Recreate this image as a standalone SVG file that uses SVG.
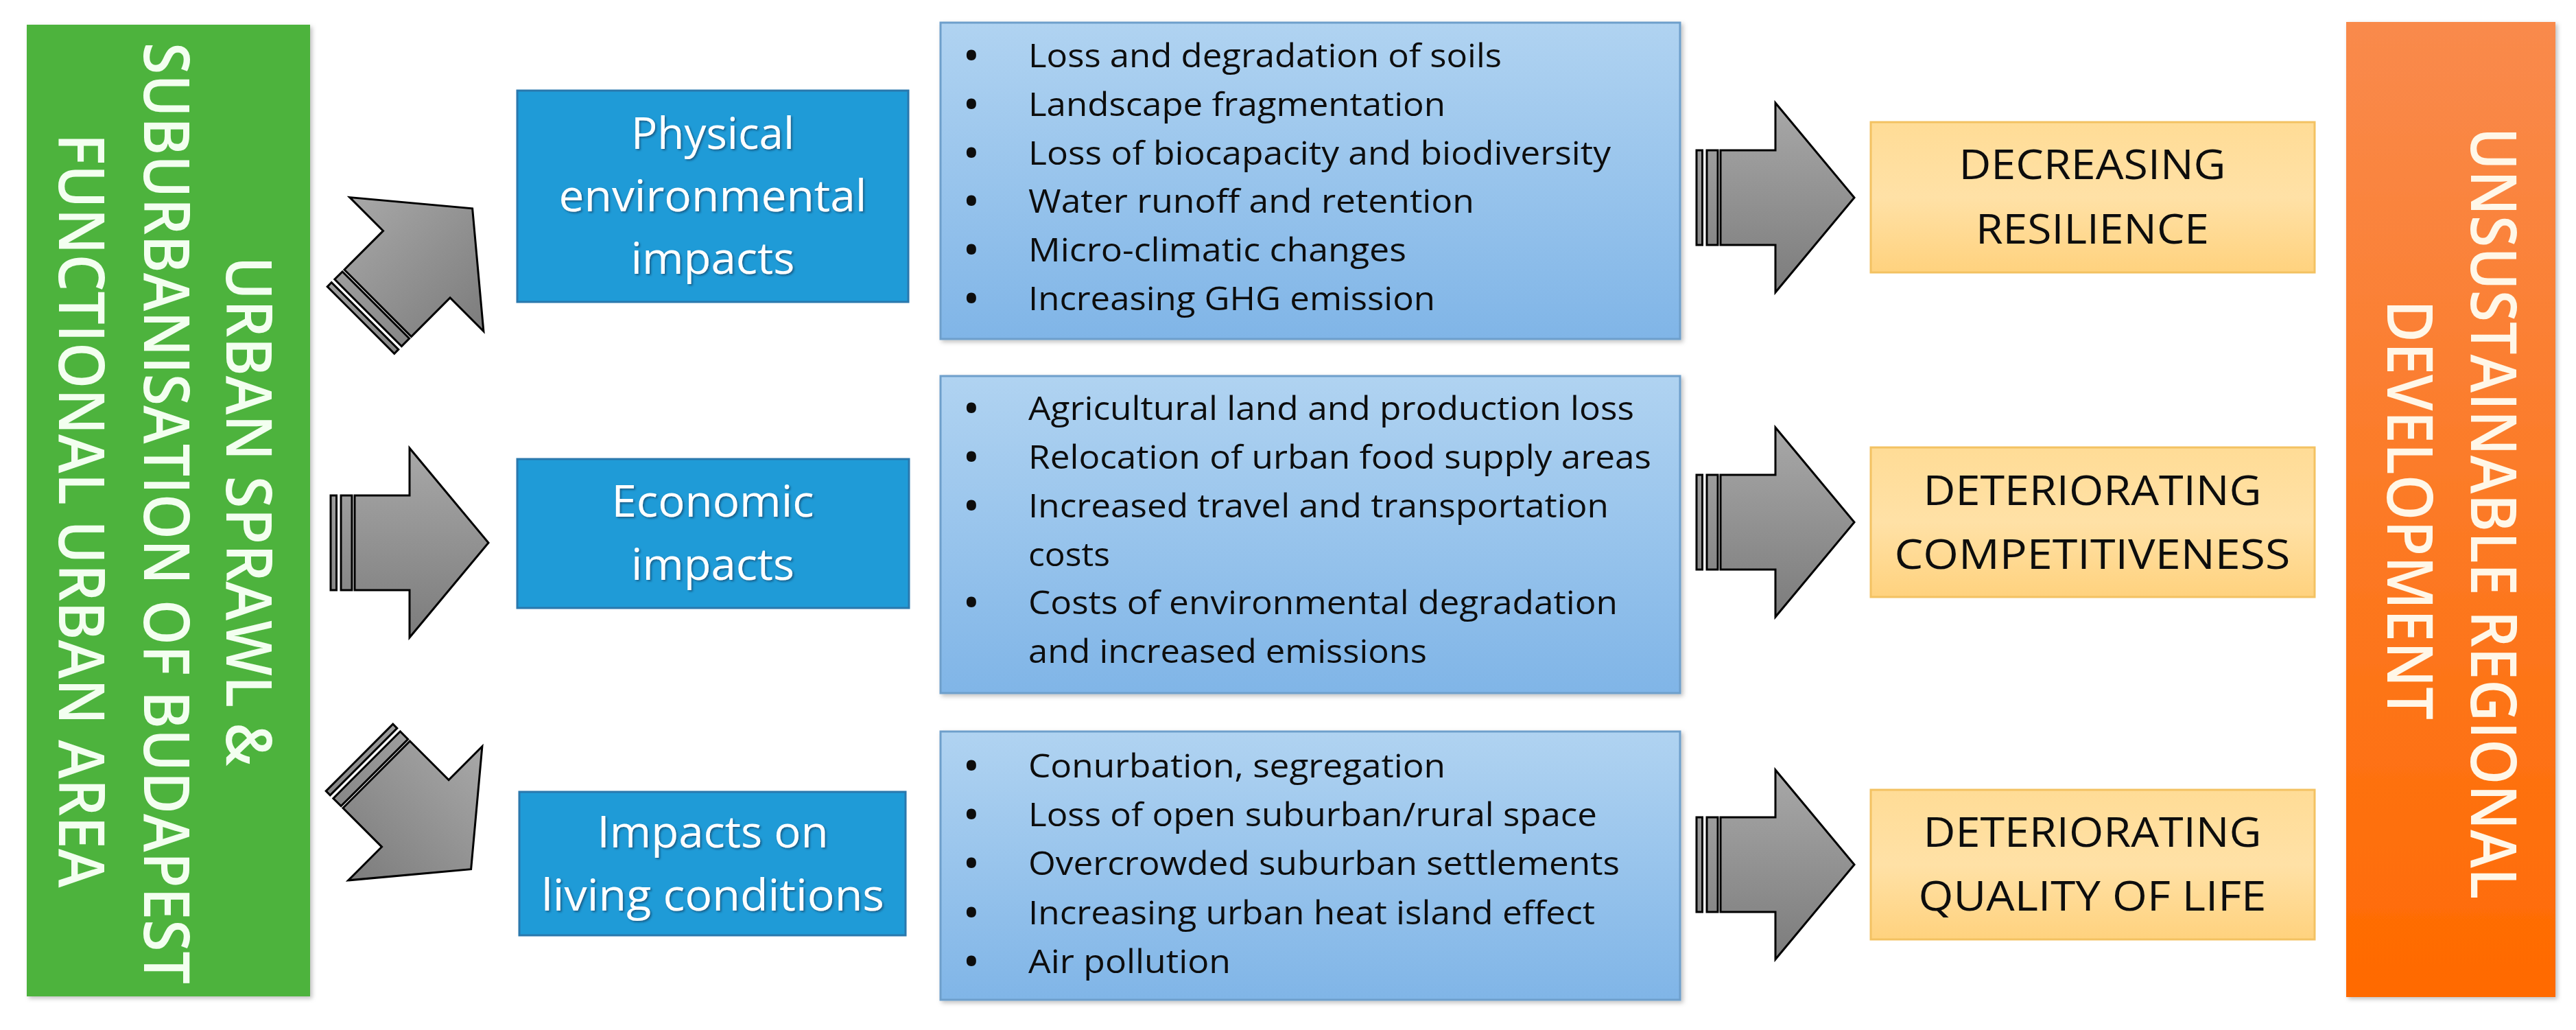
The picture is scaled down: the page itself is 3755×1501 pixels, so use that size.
<svg xmlns="http://www.w3.org/2000/svg" width="3755" height="1501" viewBox="0 0 3755 1501">
<defs>
<style>
.rot{font-family:'Open Sans','Liberation Sans',sans-serif;font-size:84px;font-weight:600;text-anchor:middle}
.title{font-family:'Open Sans','Liberation Sans',sans-serif;font-size:64px;fill:#ffffff;text-anchor:middle}
.bul{font-family:'Open Sans','Liberation Sans',sans-serif;font-size:47px;fill:#0d0d0d}
.dot{font-family:'Open Sans','Liberation Sans',sans-serif;font-size:50px;font-weight:700;fill:#0d0d0d;text-anchor:middle}
.res{font-family:'Open Sans','Liberation Sans',sans-serif;font-size:60px;fill:#0d0d0d;text-anchor:middle}
.tbox{fill:#1f9bd7;stroke:#2a78ad;stroke-width:3}
.lbox{fill:url(#gList);stroke:#6e9fcb;stroke-width:3}
.ybox{fill:url(#gYellow);stroke:#f3c262;stroke-width:3}
.arr{fill:url(#gArrow);stroke:#000;stroke-width:3;stroke-linejoin:miter}
</style>
<linearGradient id="gList" x1="0" y1="0" x2="0" y2="1">
<stop offset="0" stop-color="#b0d3f1"/>
<stop offset="1" stop-color="#80b5e7"/>
</linearGradient>
<linearGradient id="gYellow" x1="0" y1="0" x2="0" y2="1">
<stop offset="0" stop-color="#ffdc96"/>
<stop offset="0.5" stop-color="#ffe1a6"/>
<stop offset="1" stop-color="#ffd27e"/>
</linearGradient>
<linearGradient id="gOrange" x1="0" y1="0" x2="0" y2="1">
<stop offset="0" stop-color="#f98a4c"/>
<stop offset="1" stop-color="#ff6a00"/>
</linearGradient>
<linearGradient id="gArrow" gradientUnits="userSpaceOnUse" x1="0" y1="-138" x2="0" y2="138">
<stop offset="0" stop-color="#a8a8a8"/>
<stop offset="1" stop-color="#7c7c7c"/>
</linearGradient>
<filter id="shadow" x="-5%" y="-5%" width="110%" height="110%">
<feDropShadow dx="3" dy="3" stdDeviation="3" flood-color="#000" flood-opacity="0.25"/>
</filter>
<filter id="tshadow" x="-10%" y="-20%" width="120%" height="140%">
<feDropShadow dx="2" dy="2" stdDeviation="1.5" flood-color="#0b3552" flood-opacity="0.6"/>
</filter>
<g id="striped-arrow" class="arr">
<rect x="0" y="-69" width="8.5" height="138"/>
<rect x="15" y="-69" width="16" height="138"/>
<path d="M35,-69 H115 V-138 L230,0 L115,138 V69 H35 Z"/>
</g>
</defs>

<rect x="0" y="0" width="3755" height="1501" fill="#ffffff"/>

<g id="n-source">
<rect x="39" y="36" width="413" height="1416" fill="#4db33e" filter="url(#shadow)"/>
<g fill="#f3fff0">
<text class="rot" transform="translate(330,745) rotate(90) scale(1,1.09)" textLength="743" lengthAdjust="spacingAndGlyphs">URBAN SPRAWL &amp;</text>
<text class="rot" transform="translate(210,748) rotate(90) scale(1,1.09)" textLength="1372" lengthAdjust="spacingAndGlyphs">SUBURBANISATION OF BUDAPEST</text>
<text class="rot" transform="translate(86,744) rotate(90) scale(1,1.09)" textLength="1099" lengthAdjust="spacingAndGlyphs">FUNCTIONAL URBAN AREA</text>
</g>
</g>

<g id="n-physical">
<rect class="tbox" x="754" y="132" width="570" height="308"/>
<g filter="url(#tshadow)">
<text class="title" x="1039" y="217" textLength="238" lengthAdjust="spacingAndGlyphs">Physical</text>
<text class="title" x="1039" y="308" textLength="449" lengthAdjust="spacingAndGlyphs">environmental</text>
<text class="title" x="1039" y="399" textLength="239" lengthAdjust="spacingAndGlyphs">impacts</text>
</g>
</g>

<g id="n-economic">
<rect class="tbox" x="754" y="669" width="571" height="217"/>
<g filter="url(#tshadow)">
<text class="title" x="1039" y="753" textLength="295" lengthAdjust="spacingAndGlyphs">Economic</text>
<text class="title" x="1039" y="845" textLength="238" lengthAdjust="spacingAndGlyphs">impacts</text>
</g>
</g>

<g id="n-living">
<rect class="tbox" x="757" y="1154" width="563" height="209"/>
<g filter="url(#tshadow)">
<text class="title" x="1039" y="1235" textLength="337" lengthAdjust="spacingAndGlyphs">Impacts on</text>
<text class="title" x="1039" y="1327" textLength="500" lengthAdjust="spacingAndGlyphs">living conditions</text>
</g>
</g>

<g id="n-physical-list">
<rect class="lbox" x="1371" y="33" width="1078" height="461" filter="url(#shadow)"/>
<text class="dot" x="1416" y="99">•</text>
<text class="bul" x="1499" y="98" textLength="690" lengthAdjust="spacingAndGlyphs">Loss and degradation of soils</text>
<text class="dot" x="1416" y="170">•</text>
<text class="bul" x="1499" y="169" textLength="608" lengthAdjust="spacingAndGlyphs">Landscape fragmentation</text>
<text class="dot" x="1416" y="241">•</text>
<text class="bul" x="1499" y="240" textLength="849" lengthAdjust="spacingAndGlyphs">Loss of biocapacity and biodiversity</text>
<text class="dot" x="1416" y="311">•</text>
<text class="bul" x="1499" y="310" textLength="650" lengthAdjust="spacingAndGlyphs">Water runoff and retention</text>
<text class="dot" x="1416" y="382">•</text>
<text class="bul" x="1499" y="381" textLength="551" lengthAdjust="spacingAndGlyphs">Micro-climatic changes</text>
<text class="dot" x="1416" y="453">•</text>
<text class="bul" x="1499" y="452" textLength="593" lengthAdjust="spacingAndGlyphs">Increasing GHG emission</text>
</g>

<g id="n-economic-list">
<rect class="lbox" x="1371" y="548" width="1078" height="462" filter="url(#shadow)"/>
<text class="dot" x="1416" y="613">•</text>
<text class="bul" x="1499" y="612" textLength="883" lengthAdjust="spacingAndGlyphs">Agricultural land and production loss</text>
<text class="dot" x="1416" y="684">•</text>
<text class="bul" x="1499" y="683" textLength="908" lengthAdjust="spacingAndGlyphs">Relocation of urban food supply areas</text>
<text class="dot" x="1416" y="755">•</text>
<text class="bul" x="1499" y="754" textLength="846" lengthAdjust="spacingAndGlyphs">Increased travel and transportation</text>
<text class="bul" x="1499" y="825" textLength="119" lengthAdjust="spacingAndGlyphs">costs</text>
<text class="dot" x="1416" y="896">•</text>
<text class="bul" x="1499" y="895" textLength="859" lengthAdjust="spacingAndGlyphs">Costs of environmental degradation</text>
<text class="bul" x="1499" y="966" textLength="581" lengthAdjust="spacingAndGlyphs">and increased emissions</text>
</g>

<g id="n-living-list">
<rect class="lbox" x="1371" y="1066" width="1078" height="391" filter="url(#shadow)"/>
<text class="dot" x="1416" y="1134">•</text>
<text class="bul" x="1499" y="1133" textLength="608" lengthAdjust="spacingAndGlyphs">Conurbation, segregation</text>
<text class="dot" x="1416" y="1205">•</text>
<text class="bul" x="1499" y="1204" textLength="829" lengthAdjust="spacingAndGlyphs">Loss of open suburban/rural space</text>
<text class="dot" x="1416" y="1276">•</text>
<text class="bul" x="1499" y="1275" textLength="862" lengthAdjust="spacingAndGlyphs">Overcrowded suburban settlements</text>
<text class="dot" x="1416" y="1348">•</text>
<text class="bul" x="1499" y="1347" textLength="826" lengthAdjust="spacingAndGlyphs">Increasing urban heat island effect</text>
<text class="dot" x="1416" y="1419">•</text>
<text class="bul" x="1499" y="1418" textLength="295" lengthAdjust="spacingAndGlyphs">Air pollution</text>
</g>

<g id="n-resilience">
<rect class="ybox" x="2727" y="178" width="647" height="219"/>
<text class="res" x="3050" y="261" textLength="389" lengthAdjust="spacingAndGlyphs">DECREASING</text>
<text class="res" x="3050" y="355" textLength="340" lengthAdjust="spacingAndGlyphs">RESILIENCE</text>
</g>

<g id="n-competitiveness">
<rect class="ybox" x="2727" y="652" width="647" height="218"/>
<text class="res" x="3050" y="736" textLength="493" lengthAdjust="spacingAndGlyphs">DETERIORATING</text>
<text class="res" x="3050" y="829" textLength="577" lengthAdjust="spacingAndGlyphs">COMPETITIVENESS</text>
</g>

<g id="n-quality">
<rect class="ybox" x="2727" y="1151" width="647" height="218"/>
<text class="res" x="3050" y="1234" textLength="493" lengthAdjust="spacingAndGlyphs">DETERIORATING</text>
<text class="res" x="3050" y="1327" textLength="507" lengthAdjust="spacingAndGlyphs">QUALITY OF LIFE</text>
</g>

<g id="n-outcome">
<rect x="3420" y="32" width="305" height="1421" fill="url(#gOrange)" filter="url(#shadow)"/>
<g fill="#fff7e8">
<text class="rot" transform="translate(3602,748) rotate(90) scale(1,1.09)" textLength="1125" lengthAdjust="spacingAndGlyphs">UNSUSTAINABLE REGIONAL</text>
<text class="rot" transform="translate(3480,743) rotate(90) scale(1,1.09)" textLength="612" lengthAdjust="spacingAndGlyphs">DEVELOPMENT</text>
</g>
</g>

<g id="connectors">
<use href="#striped-arrow" transform="translate(526,466.5) rotate(-45)"/>
<use href="#striped-arrow" transform="translate(482,791)"/>
<use href="#striped-arrow" transform="translate(524,1104) rotate(45)"/>
<use href="#striped-arrow" transform="translate(2473,288)"/>
<use href="#striped-arrow" transform="translate(2473,761)"/>
<use href="#striped-arrow" transform="translate(2473,1260)"/>
</g>
</svg>
